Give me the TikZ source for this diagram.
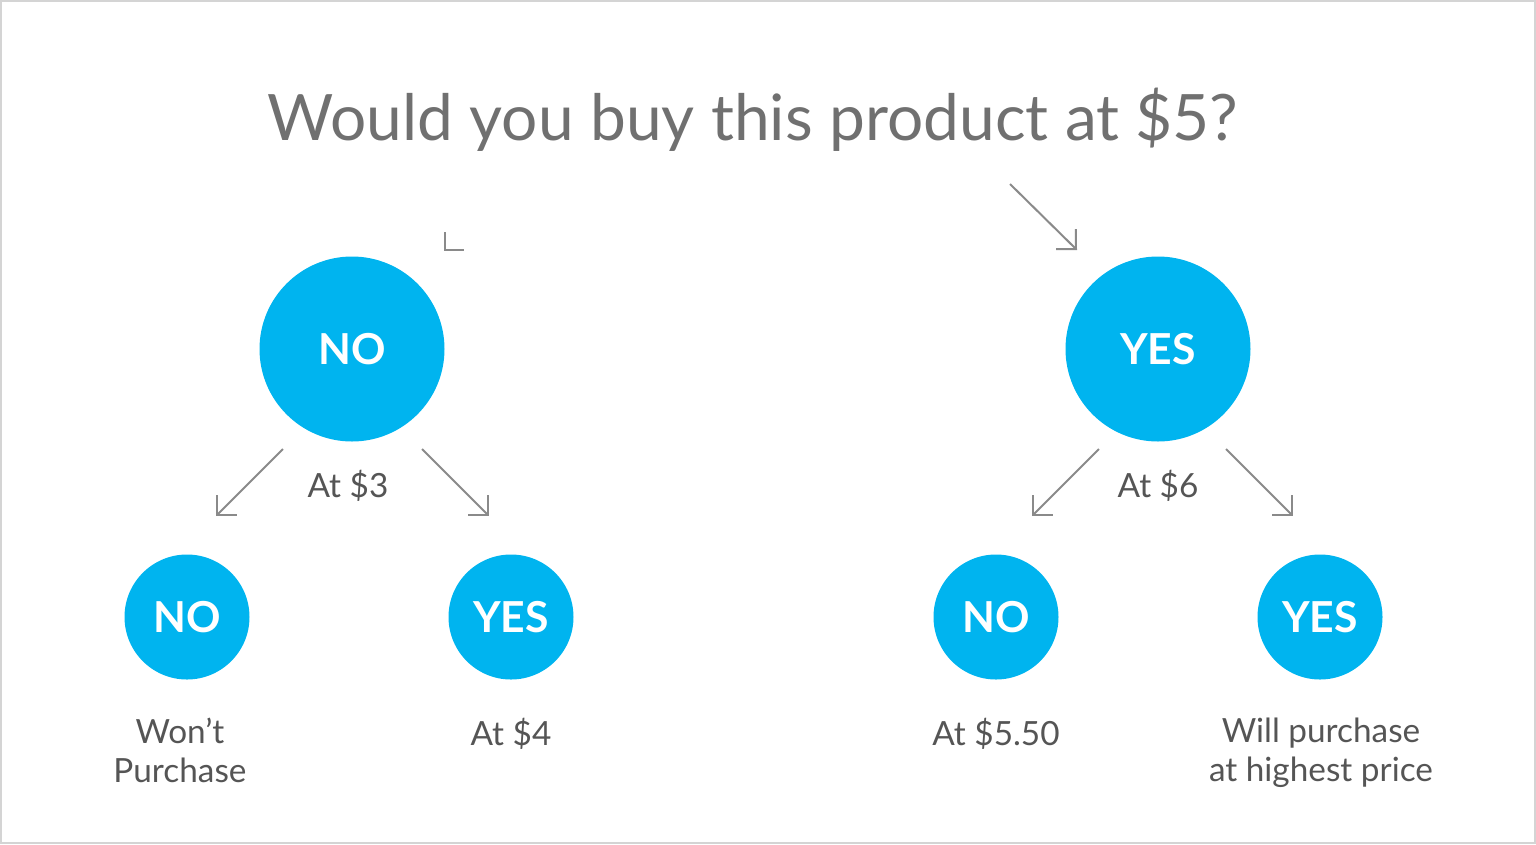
\documentclass[tikz,border=0pt]{standalone}
\usepackage{fontspec}
\setmainfont{Lato}
\usetikzlibrary{arrows.meta}
\definecolor{bub}{HTML}{00B4EF}
\definecolor{arr}{HTML}{8A8A8A}
\definecolor{txt}{HTML}{555555}
\definecolor{ttl}{HTML}{707070}
\definecolor{frame}{HTML}{D4D4D4}
\begin{document}
\begin{tikzpicture}[x=0.75pt,y=-0.75pt,
  big/.style={circle,fill=bub,minimum size=185*0.75pt,inner sep=0pt,text=white,font=\fontsize{32}{32}\selectfont\bfseries},
  small/.style={circle,fill=bub,minimum size=125*0.75pt,inner sep=0pt,text=white,font=\fontsize{32}{32}\selectfont\bfseries},
  lbl/.style={text=txt,font=\fontsize{25}{29}\selectfont,align=center,inner sep=0pt},
  arw/.style={draw=arr,line width=1.5pt,line join=miter,-{Straight Barb[length=10.5pt,width=21pt,line width=1.5pt]}}]
\useasboundingbox (0,0) rectangle (1536,844);
\draw[frame,line width=1.5pt] (1,1) rectangle (1535,843);
\node[text=ttl,font=\fontsize{48}{48}\selectfont,anchor=base] (title) at (753,140) {Would you buy this product at \$5?};
\node[big] (no) at (352,349) {NO};
\node[big] (yes) at (1158,349) {YES};
\node[small] (nono) at (187,617) {NO};
\node[small] (noyes) at (511,617) {YES};
\node[small] (yesno) at (996,617) {NO};
\node[small] (yesyes) at (1320,617) {YES};
\node[lbl] (l3) at (348,486) {At \$3};
\node[lbl] (l6) at (1158,486) {At \$6};
\node[lbl,anchor=north] (lw) at (180,718) {Won’t\\Purchase};
\node[lbl,anchor=north] (l4) at (511,718) {At \$4};
\node[lbl,anchor=north] (l55) at (996,718) {At \$5.50};
\node[lbl,anchor=north] (lh) at (1321,718) {Will purchase\\at highest price};
% arrows
\coordinate (t1) at (1010,184); \coordinate (t2) at (1077,250);
\draw[arw] (t1) -- (t2);
\coordinate (m1) at (445,232); \coordinate (m2) at (445,250); \coordinate (m3) at (464,250);
\draw[draw=arr,line width=1.5pt,line join=miter] (m1) -- (m2) -- (m3);
\coordinate (a1) at (283,449); \coordinate (a2) at (216,516);
\coordinate (b1) at (422,449); \coordinate (b2) at (489,516);
\coordinate (c1) at (1099,449); \coordinate (c2) at (1032,516);
\coordinate (d1) at (1226,449); \coordinate (d2) at (1293,516);
\draw[arw] (a1) -- (a2);
\draw[arw] (b1) -- (b2);
\draw[arw] (c1) -- (c2);
\draw[arw] (d1) -- (d2);
\end{tikzpicture}
\end{document}
